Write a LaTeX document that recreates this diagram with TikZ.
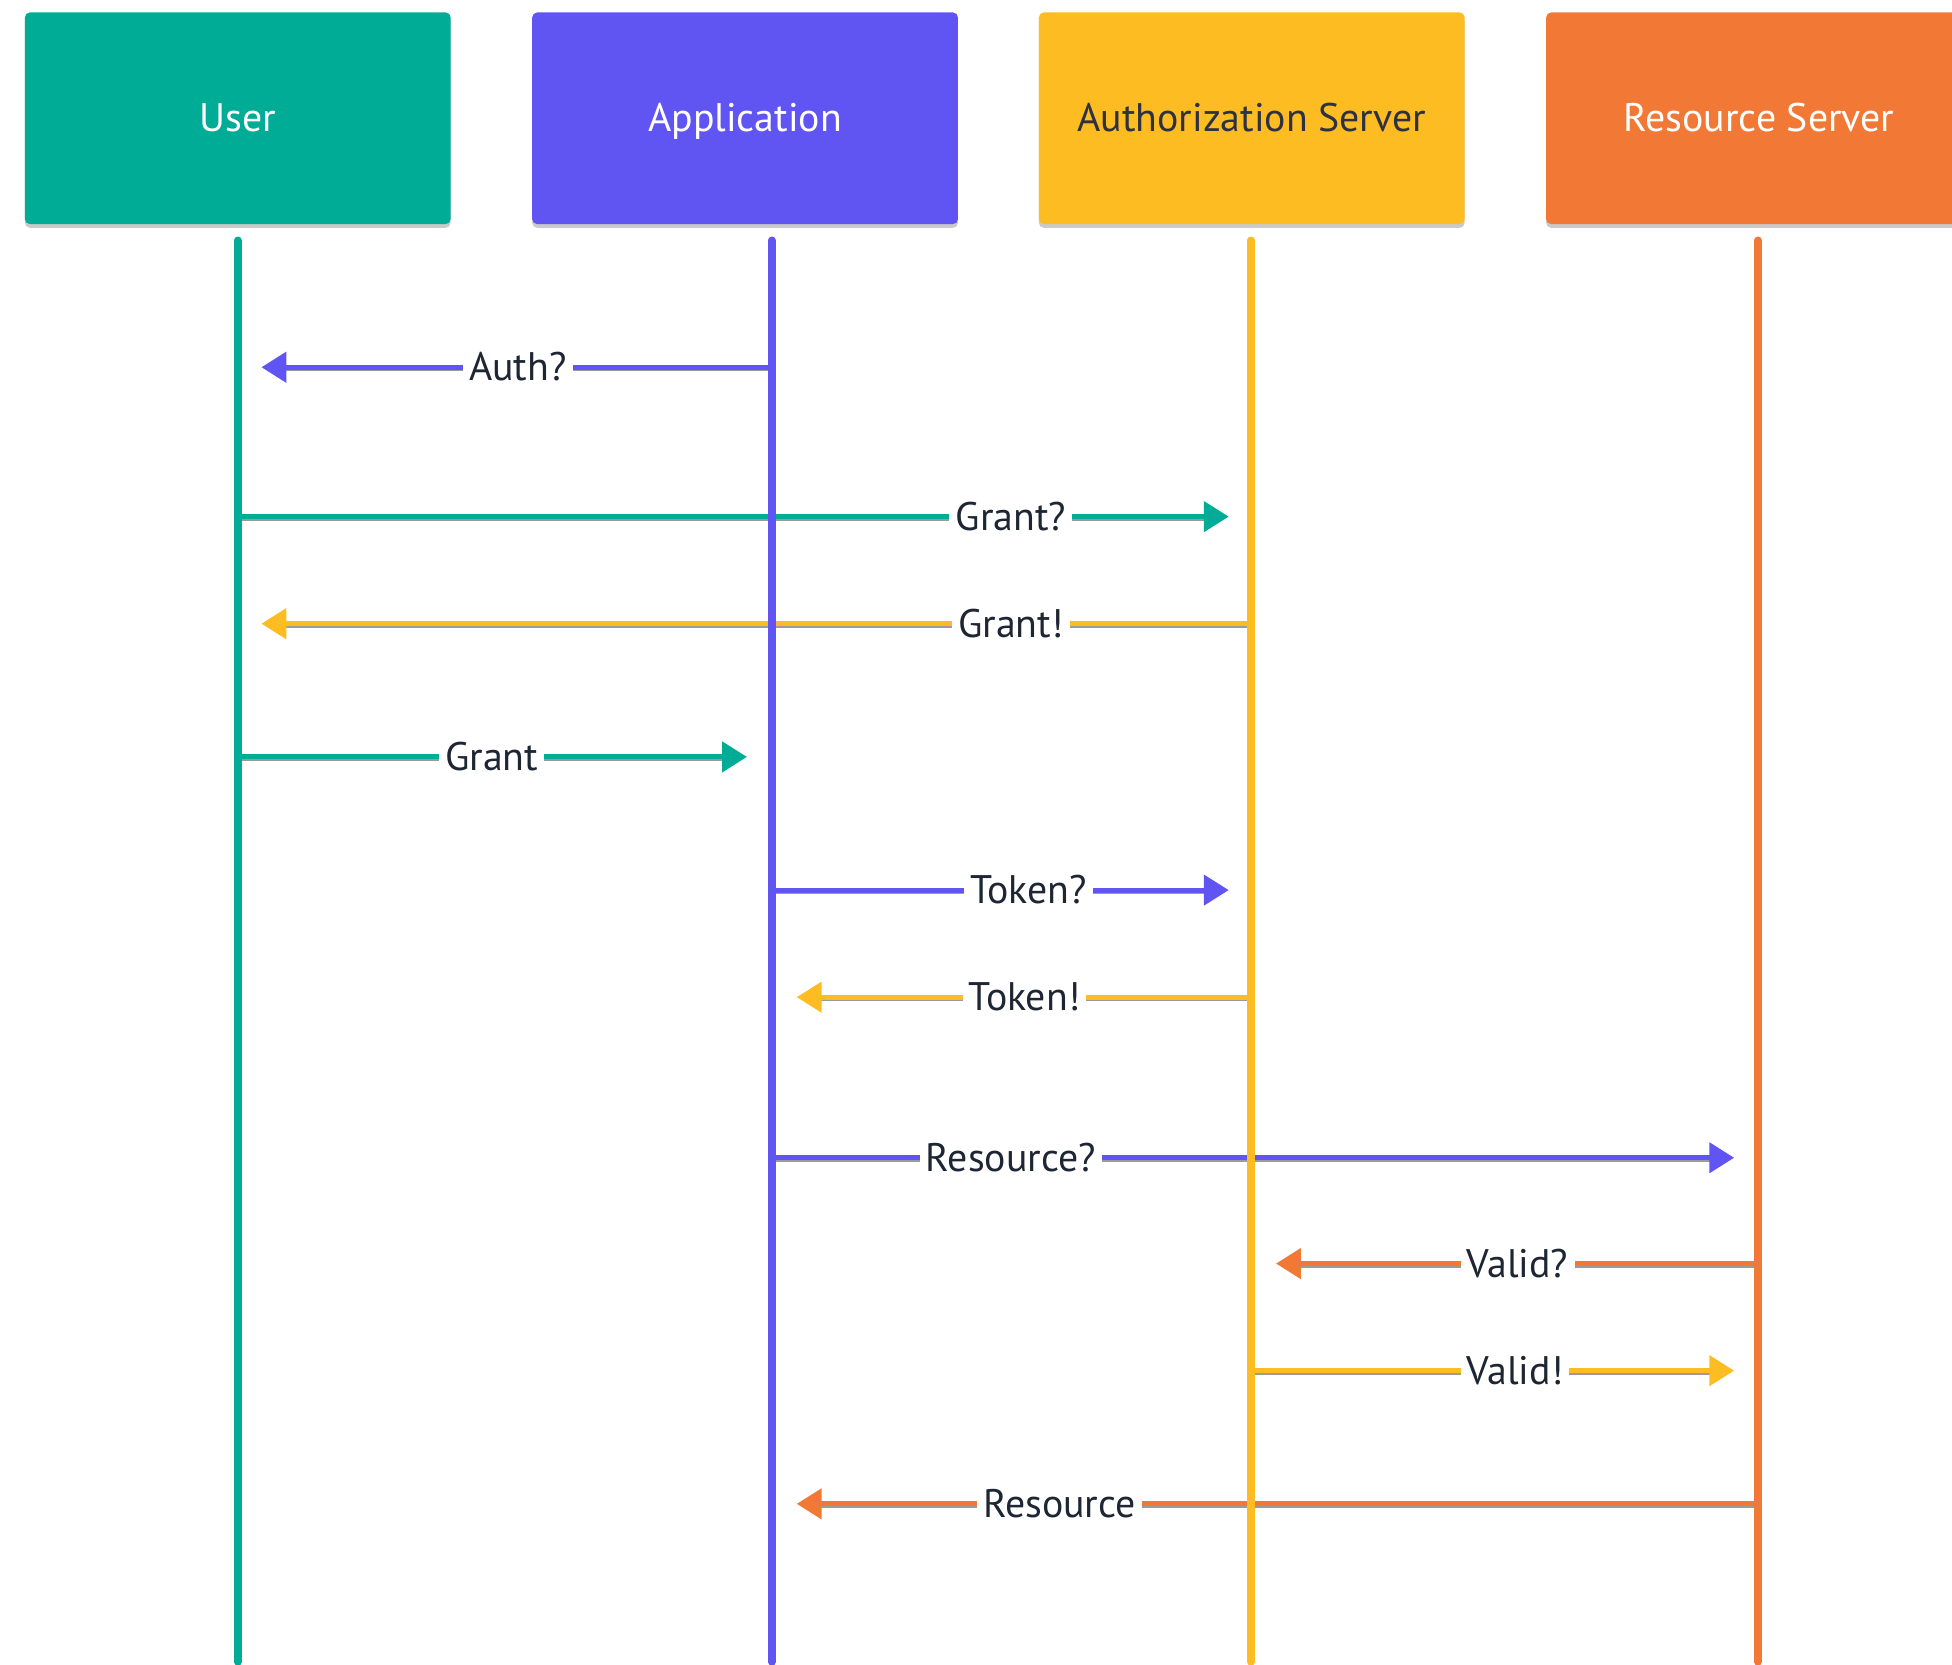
\documentclass[tikz,border=0pt]{standalone}
\usepackage{fontspec}
\setmainfont{PT Sans}
\usetikzlibrary{arrows.meta,shadows}
\definecolor{cuser}{HTML}{00AC96}
\definecolor{capp}{HTML}{6055F2}
\definecolor{cauth}{HTML}{FDBD22}
\definecolor{cres}{HTML}{F27935}
\definecolor{ctext}{HTML}{1E2533}
\definecolor{cdark}{HTML}{2D3142}
\tikzset{
  header/.style={draw=none, fill=#1, rounded corners=4pt, minimum width=342pt, minimum height=170pt,
    inner sep=0pt, font=\fontsize{32}{36}\selectfont, text height=22pt, text depth=0pt,
    drop shadow={shadow xshift=0pt, shadow yshift=-3pt, opacity=0.35, fill=black!60}},
  lifeline/.style={line width=6pt, draw=#1, line cap=round},
  msg/.style={line width=4pt, draw=#1, -{Triangle[length=20pt, width=24pt]},
    preaction={draw=black!65, -, line width=4pt, opacity=0.6, shorten >=18pt, transform canvas={yshift=-1.3pt}}},
  lab/.style={fill=white, inner xsep=5pt, inner ysep=2pt, text=ctext,
    font=\fontsize{32}{36}\selectfont, text height=22pt, text depth=0pt},
}
\begin{document}
\begin{tikzpicture}[x=1pt,y=-1pt]
\useasboundingbox (0,0) rectangle (1568,1337);
\clip (0,0) rectangle (1568,1337);
% headers
\node[header=cuser, text=white] (user) at (191,95) {User};
\node[header=capp, text=white] (app) at (598.5,95) {Application};
\node[header=cauth, text=cdark] (auth) at (1005.5,95) {Authorization Server};
\node[header=cres, text=white] (res) at (1413,95) {Resource Server};
% lifeline endpoints
\coordinate (userT) at (191,193); \coordinate (userB) at (191,1335);
\coordinate (appT) at (620,193);  \coordinate (appB) at (620,1335);
\coordinate (authT) at (1005,193); \coordinate (authB) at (1005,1335);
\coordinate (resT) at (1412,193); \coordinate (resB) at (1412,1335);
% message endpoints
\coordinate (m1s) at (620,295);  \coordinate (m1e) at (210,295);
\coordinate (m2s) at (191,415);  \coordinate (m2e) at (987,415);
\coordinate (m3s) at (1005,501); \coordinate (m3e) at (210,501);
\coordinate (m4s) at (191,608);  \coordinate (m4e) at (600,608);
\coordinate (m5s) at (620,715);  \coordinate (m5e) at (987,715);
\coordinate (m6s) at (1005,801); \coordinate (m6e) at (640,801);
\coordinate (m7s) at (620,930);  \coordinate (m7e) at (1393,930);
\coordinate (m8s) at (1412,1015); \coordinate (m8e) at (1025,1015);
\coordinate (m9s) at (1005,1101); \coordinate (m9e) at (1393,1101);
\coordinate (m10s) at (1412,1208); \coordinate (m10e) at (640,1208);
% messages
\draw[msg=capp] (m1s) -- (m1e);
\draw[msg=cuser] (m2s) -- (m2e);
\draw[msg=cauth] (m3s) -- (m3e);
\draw[msg=cuser] (m4s) -- (m4e);
\draw[msg=capp] (m5s) -- (m5e);
\draw[msg=cauth] (m6s) -- (m6e);
\draw[msg=capp] (m7s) -- (m7e);
\draw[msg=cres] (m8s) -- (m8e);
\draw[msg=cauth] (m9s) -- (m9e);
\draw[msg=cres] (m10s) -- (m10e);
% lifelines
\draw[lifeline=cuser] (userT) -- (userB);
\draw[lifeline=capp] (appT) -- (appB);
\draw[lifeline=cauth] (authT) -- (authB);
\draw[lifeline=cres] (resT) -- (resB);
% labels
\node[lab] (l1) at (416,295) {Auth?};
\node[lab] (l2) at (812,415) {Grant?};
\node[lab] (l3) at (812,501) {Grant!};
\node[lab] (l4) at (395,608) {Grant};
\node[lab] (l5) at (826,715) {Token?};
\node[lab] (l6) at (823,801) {Token!};
\node[lab] (l7) at (812,930) {Resource?};
\node[lab] (l8) at (1219,1015) {Valid?};
\node[lab] (l9) at (1217,1101) {Valid!};
\node[lab] (l10) at (851,1208) {Resource};
\end{tikzpicture}
\end{document}
